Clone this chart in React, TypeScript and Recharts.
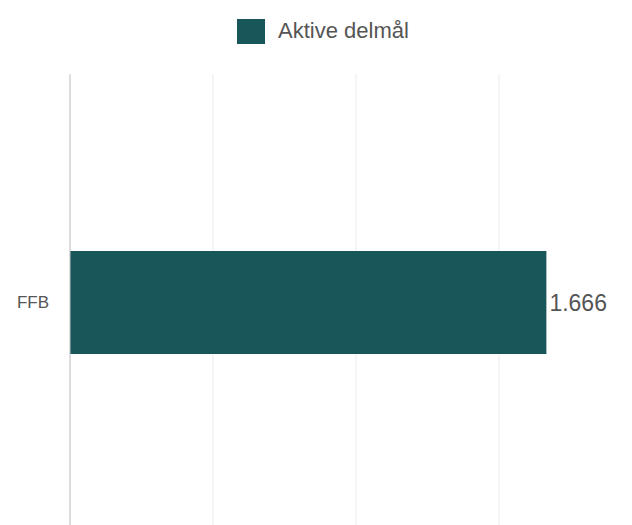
import React from "react";
import {
  BarChart,
  Bar,
  XAxis,
  YAxis,
  CartesianGrid,
  Legend,
  LabelList,
} from "recharts";

const categories = ["FFB"];
const activeGoals = [1666];
const seriesName = "Aktive delmål";
const xTicks = [0, 500, 1000, 1500];
const xDomainMax = 1850;

const data = categories.map((c, i) => ({ name: c, value: activeGoals[i] }));

const BAR_COLOR = "#185759";
const FONT = "Arial, 'Liberation Sans', sans-serif";

const formatDa = (v: number) =>
  String(Math.round(v)).replace(/\B(?=(\d{3})+(?!\d))/g, ".");

const renderLegend = (props: any) => {
  const { payload } = props;
  return (
    <div
      style={{
        display: "flex",
        justifyContent: "center",
        alignItems: "center",
        height: 40,
        fontFamily: FONT,
      }}
    >
      {(payload || []).map((p: any, i: number) => (
        <div
          key={i}
          style={{ display: "flex", alignItems: "center", marginLeft: 14 }}
        >
          <div
            style={{
              width: 28,
              height: 25,
              background: p.color,
              marginRight: 13,
            }}
          />
          <span style={{ fontSize: 22, color: "#555" }}>{p.value}</span>
        </div>
      ))}
    </div>
  );
};

const EmptyTick = () => <g />;

const verticalGen = (props: any) => {
  const xAxis = props && props.xAxis;
  if (xAxis && typeof xAxis.scale === "function") {
    return xTicks.map((t) => xAxis.scale(t));
  }
  const off = props.offset;
  return xTicks.map((t) => off.left + (t / xDomainMax) * off.width);
};

export default function App() {
  return (
    <div
      style={{
        position: "absolute",
        left: 0,
        top: 0,
        width: 632,
        height: 525,
        overflow: "hidden",
        background: "#fff",
      }}
    >
      <BarChart
        width={632}
        height={535}
        data={data}
        layout="vertical"
        margin={{ top: 34, right: 33, bottom: 5, left: 0 }}
        barCategoryGap={0}
      >
        <CartesianGrid
          horizontal={false}
          stroke="#ebebeb"
          strokeWidth={1}
          verticalCoordinatesGenerator={verticalGen}
        />
        <XAxis
          type="number"
          domain={[0, xDomainMax]}
          ticks={xTicks}
          tick={EmptyTick}
          axisLine={false}
          tickLine={false}
          height={0}
          interval={0}
        />
        <YAxis
          type="category"
          dataKey="name"
          width={70}
          tickSize={0}
          tickMargin={21}
          tickLine={false}
          axisLine={{ stroke: "#c4c4c4", strokeWidth: 1 }}
          tick={{ fontSize: 17, fill: "#555", fontFamily: FONT }}
        />
        <Legend
          verticalAlign="top"
          align="center"
          content={renderLegend}
          wrapperStyle={{ top: 11, left: 0, width: 632 }}
        />
        <Bar
          dataKey="value"
          name={seriesName}
          fill={BAR_COLOR}
          barSize={103}
          isAnimationActive={false}
        >
          <LabelList
            dataKey="value"
            position="right"
            offset={3}
            formatter={(v: any) => formatDa(Number(v))}
            style={{ fontSize: 23, fill: "#555", fontFamily: FONT }}
          />
        </Bar>
      </BarChart>
    </div>
  );
}
